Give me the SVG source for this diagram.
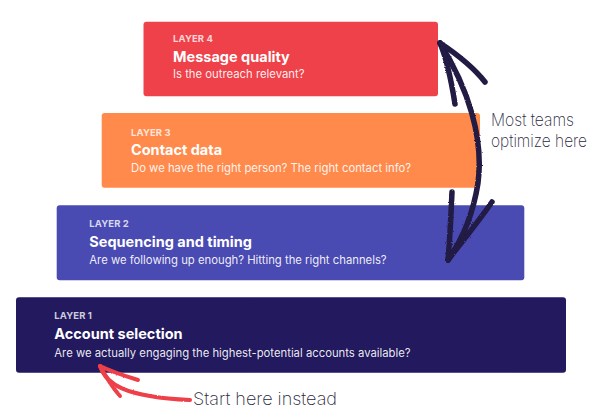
<svg xmlns="http://www.w3.org/2000/svg" width="596" height="417" viewBox="0 0 596 417">
<defs>
<style>
.lbl{font-family:Inter,"Noto Sans",sans-serif;font-size:9.5px;font-weight:700;fill:#ffffff;fill-opacity:0.78;letter-spacing:0.1px}
.ttl{font-family:Inter,"Noto Sans",sans-serif;font-size:14.5px;font-weight:700;fill:#ffffff}
.sub{font-family:Inter,"Noto Sans",sans-serif;font-size:11.3px;font-weight:400;fill:#ffffff;fill-opacity:0.92}
.hand{font-family:Inter,"DejaVu Sans",sans-serif;font-size:17px;font-weight:200;fill:#2b2740}
.ink{fill:none;stroke:#201a45;stroke-width:5.5;stroke-linecap:round;stroke-linejoin:round}
.red{fill:none;stroke:#ee3f48;stroke-width:4;stroke-linecap:round;stroke-linejoin:round}
</style>
<filter id="rough" x="-10%" y="-10%" width="120%" height="120%">
<feTurbulence type="fractalNoise" baseFrequency="0.9" numOctaves="2" seed="3"/>
<feDisplacementMap in="SourceGraphic" scale="2.2"/>
</filter>
</defs>
<rect width="596" height="417" fill="#ffffff"/>
<g id="layer4">
<rect x="143.5" y="21.7" width="294.5" height="74.5" rx="3" fill="#ef4149"/>
<text class="lbl" x="173" y="41.7">LAYER 4</text>
<text class="ttl" x="173" y="61.7">Message quality</text>
<text class="sub" x="173" y="78">Is the outreach relevant?</text>
</g>
<g id="layer3">
<rect x="101.7" y="113" width="378.3" height="74.7" rx="3" fill="#ff8a4c"/>
<text class="lbl" x="131" y="135.7">LAYER 3</text>
<text class="ttl" x="131" y="154.5">Contact data</text>
<text class="sub" x="131" y="171.5">Do we have the right person? The right contact info?</text>
</g>
<g id="layer2">
<rect x="56.7" y="205.3" width="467.6" height="75" rx="3" fill="#4a4ab3"/>
<text class="lbl" x="89.3" y="227.3">LAYER 2</text>
<text class="ttl" x="89.3" y="246.7">Sequencing and timing</text>
<text class="sub" x="89.3" y="264">Are we following up enough? Hitting the right channels?</text>
</g>
<g id="layer1">
<rect x="16" y="297.3" width="550" height="75.4" rx="3" fill="#22195e"/>
<text class="lbl" x="54.3" y="319.3">LAYER 1</text>
<text class="ttl" x="54.3" y="339.3">Account selection</text>
<text class="sub" x="54.3" y="356.7">Are we actually engaging the highest-potential accounts available?</text>
</g>
<g id="connectors">
<g filter="url(#rough)">
<path class="ink" d="M440,43 C468,88 484,138 478,183 C473,215 462,240 448,260"/>
<path class="ink" d="M440,43 C448,62 452,85 455,104"/>
<path class="ink" d="M440,43 C458,55 474,68 485,82"/>
<path class="ink" d="M448,260 C450,238 451,215 452,192"/>
<path class="ink" d="M448,260 C462,242 478,222 492,202"/>
</g>
<g filter="url(#rough)">
<path class="red" d="M100,366 C106,384 124,397 190,400"/>
<path class="red" d="M100,366 C112,372 125,376 138,380"/>
<path class="red" d="M100,366 C106,377 112,387 120,396"/>
</g>
</g>
<g id="annotations">
<text class="hand" x="491" y="125.7" textLength="83" lengthAdjust="spacingAndGlyphs">Most teams</text>
<text class="hand" x="491" y="146.7" textLength="96" lengthAdjust="spacingAndGlyphs">optimize here</text>
<text class="hand" x="193" y="405" font-size="19" textLength="144" lengthAdjust="spacingAndGlyphs">Start here instead</text>
</g>
</svg>
